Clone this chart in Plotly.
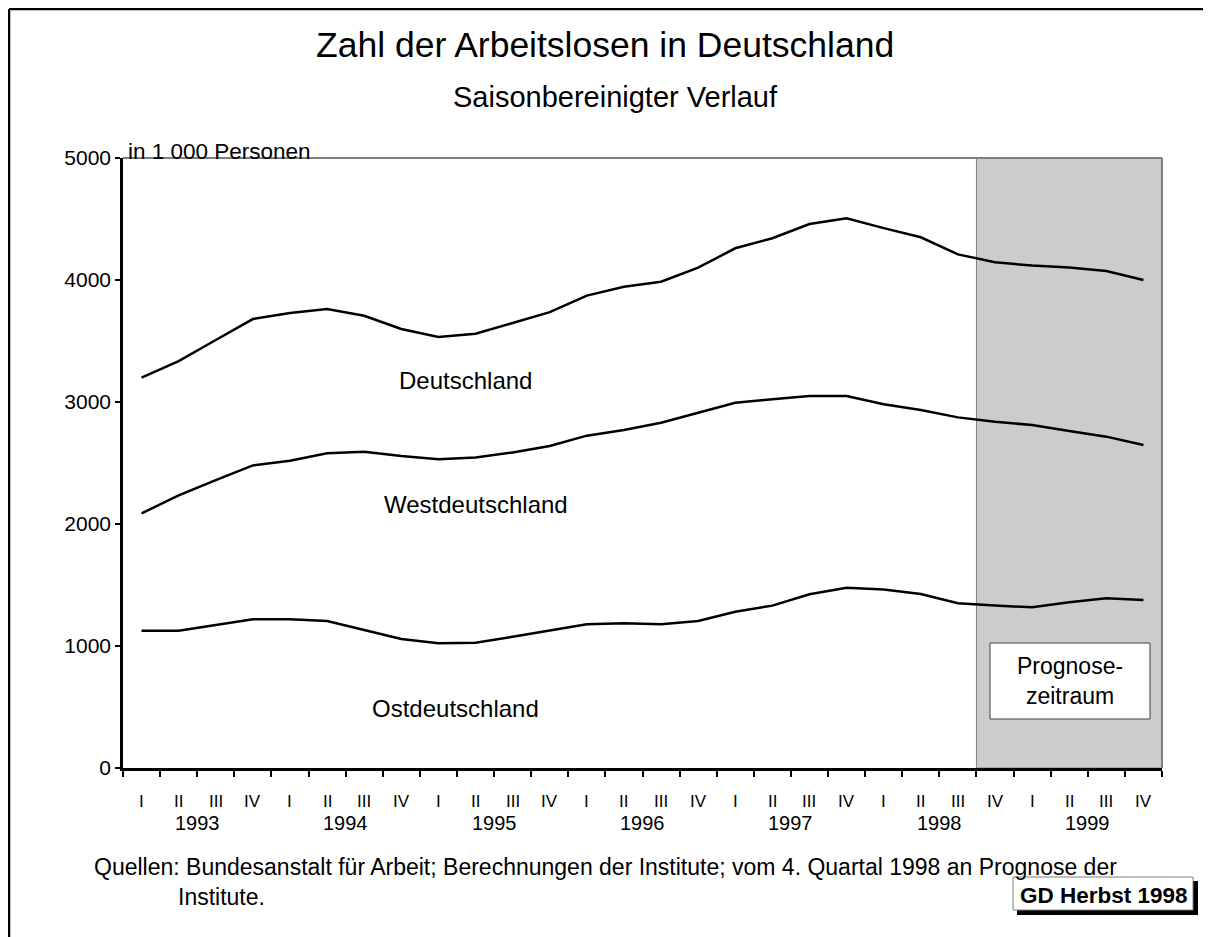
import plotly.graph_objects as go

# ---------------- data ----------------
quarters = ["I", "II", "III", "IV"] * 7
years = ["1993", "1994", "1995", "1996", "1997", "1998", "1999"]

deutschland = [3200, 3335, 3508, 3680, 3730, 3762, 3707, 3598, 3533, 3560, 3647, 3737,
               3872, 3945, 3986, 4101, 4260, 4342, 4459, 4506, 4425, 4350, 4210, 4145,
               4118, 4102, 4074, 4000]
westdeutschland = [2087, 2235, 2360, 2480, 2519, 2579, 2593, 2557, 2530, 2546, 2587, 2639,
                   2724, 2770, 2830, 2912, 2994, 3022, 3049, 3049, 2981, 2934, 2874, 2838,
                   2811, 2762, 2716, 2648]
ostdeutschland = [1126, 1126, 1172, 1219, 1219, 1205, 1131, 1057, 1022, 1027, 1076, 1126,
                  1178, 1186, 1178, 1205, 1281, 1331, 1424, 1478, 1464, 1426, 1350, 1331,
                  1317, 1358, 1391, 1377]

series = [("Deutschland", deutschland), ("Westdeutschland", westdeutschland),
          ("Ostdeutschland", ostdeutschland)]

forecast_start = 23  # index of 1998 IV
y_ticks = [0, 1000, 2000, 3000, 4000, 5000]

# ---------------- layout geometry ----------------
OFF = 8  # page body margin in the browser
W, H = 1211 - OFF, 937 - OFF
L, R, T, B = 123 - OFF, 1162 - OFF, 158 - OFF, 768 - OFF
FONT = "Liberation Sans, Arial, sans-serif"


def px(x):
    """screen x (reference pixel) -> paper fraction"""
    return (x - OFF - L) / (R - L)


def py(y):
    """screen y (reference pixel) -> paper fraction"""
    return (B - (y - OFF)) / (B - T)


n = len(quarters)
xs = list(range(n))

fig = go.Figure()
for name, vals in series:
    fig.add_trace(go.Scatter(x=xs, y=vals, mode="lines", name=name,
                             line=dict(color="black", width=2.5),
                             showlegend=False, hoverinfo="x+y"))

shapes = []
# forecast shading
shapes.append(dict(type="rect", xref="x", yref="y", x0=forecast_start - 0.5, x1=n - 0.5,
                   y0=0, y1=5000, fillcolor="#cccccc", line=dict(color="#808080", width=1),
                   layer="below"))
# top & right frame in gray
shapes.append(dict(type="line", xref="paper", yref="paper", x0=0, x1=1, y0=1, y1=1,
                   line=dict(color="#808080", width=2)))
shapes.append(dict(type="line", xref="paper", yref="paper", x0=1, x1=1, y0=0, y1=1,
                   line=dict(color="#808080", width=2)))
# outer border (left and top)
shapes.append(dict(type="line", xref="paper", yref="paper", x0=px(9), x1=px(1240),
                   y0=py(9), y1=py(9), line=dict(color="black", width=2.5)))
shapes.append(dict(type="line", xref="paper", yref="paper", x0=px(9), x1=px(9),
                   y0=py(9), y1=py(960), line=dict(color="black", width=2.5)))
# Prognose box
shapes.append(dict(type="rect", xref="paper", yref="paper", x0=px(990), x1=px(1150),
                   y0=py(643), y1=py(719), fillcolor="white",
                   line=dict(color="#404040", width=1)))
# GD Herbst box with shadow
shapes.append(dict(type="rect", xref="paper", yref="paper", x0=px(1017), x1=px(1198),
                   y0=py(881), y1=py(915), fillcolor="black", line=dict(width=0)))
shapes.append(dict(type="rect", xref="paper", yref="paper", x0=px(1013), x1=px(1193),
                   y0=py(877), y1=py(910), fillcolor="white",
                   line=dict(color="#808080", width=1)))

ann = []


def text(x, y, s, size, xanchor="center", bold=False, yanchor="middle", align="center"):
    ann.append(dict(xref="paper", yref="paper", x=px(x), y=py(y), text=s, showarrow=False,
                    xanchor=xanchor, yanchor=yanchor, align=align,
                    font=dict(family=FONT, size=size, color="black",
                              weight="bold" if bold else "normal")))


text(605, 45, "Zahl der Arbeitslosen in Deutschland", 35.5)
text(615, 97, "Saisonbereinigter Verlauf", 29)
text(126, 152, "in 1 000 Personen", 22.5, xanchor="left")
text(465, 380, "Deutschland", 24)
text(476, 504, "Westdeutschland", 24)
text(455, 708, "Ostdeutschland", 24)
text(1070, 681, "Prognose-<br>zeitraum", 23)
text(92, 867, "Quellen: Bundesanstalt für Arbeit; Berechnungen der Institute; vom 4. Quartal 1998 an Prognose der", 23, xanchor="left")
text(176, 897, "Institute.", 23, xanchor="left")
text(1104, 895, "GD Herbst 1998", 22.5, bold=True)

# quarter labels and year labels via data x-coordinates
for i, q in enumerate(quarters):
    ann.append(dict(xref="x", yref="paper", x=i, y=py(801), text=q, showarrow=False,
                    xanchor="center", yanchor="middle",
                    font=dict(family=FONT, size=17, color="black")))
for j, yr in enumerate(years):
    ann.append(dict(xref="x", yref="paper", x=4 * j + 1.5, y=py(823), text=yr,
                    showarrow=False, xanchor="center", yanchor="middle",
                    font=dict(family=FONT, size=20, color="black")))

fig.update_layout(
    width=W, height=H,
    margin=dict(l=L, r=W - R, t=T, b=H - B, pad=0),
    paper_bgcolor="white", plot_bgcolor="white",
    showlegend=False,
    shapes=shapes, annotations=ann,
    font=dict(family=FONT, color="black"),
    xaxis=dict(range=[-0.5, n - 0.5], tickmode="array",
               tickvals=[i - 0.5 for i in range(n + 1)], ticktext=[""] * (n + 1),
               ticks="outside", ticklen=6, tickwidth=2, tickcolor="black",
               showline=True, linecolor="black", linewidth=2.5, showgrid=False,
               zeroline=False, fixedrange=True),
    yaxis=dict(range=[0, 5000], tickmode="array", tickvals=y_ticks,
               ticktext=[str(v) for v in y_ticks],
               ticks="outside", ticklen=5, tickwidth=2, tickcolor="black",
               showline=True, linecolor="black", linewidth=2.5, showgrid=False,
               zeroline=False, tickfont=dict(family=FONT, size=21, color="black"),
               fixedrange=True),
)

fig.write_html("out.html")
